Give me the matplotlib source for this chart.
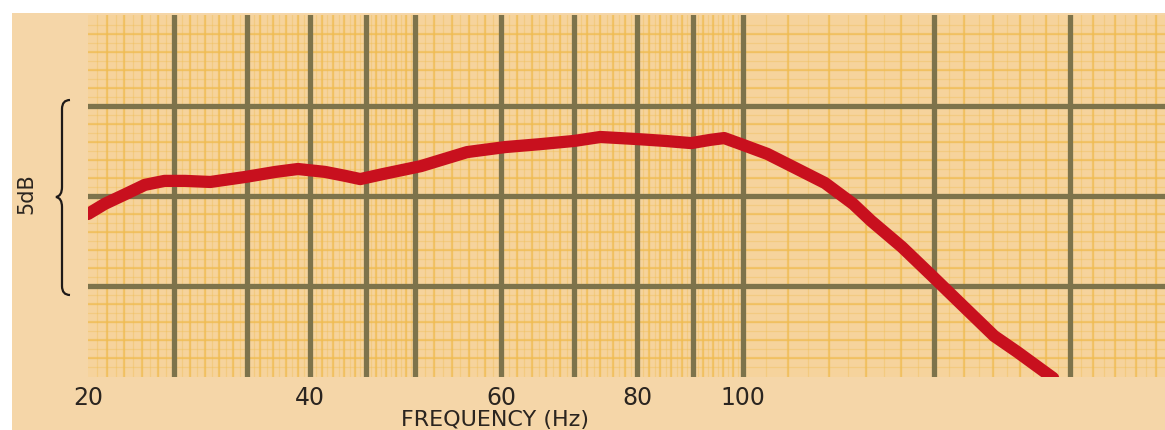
import numpy as np
import matplotlib.pyplot as plt
from matplotlib.patches import Rectangle, PathPatch
from matplotlib.path import Path
from matplotlib.ticker import NullLocator

# response curve (Hz, dB relative to centre line)
freq = [25.0, 25.9, 27.1, 28.2, 29.4, 30.7, 32.4, 34.9, 37.2, 39.0, 41.3, 43.1,
        44.5, 46.7, 50.6, 55.8, 60.5, 65.1, 70.0, 74.0, 80.2, 84.9, 89.7, 93.4,
        96.2, 99.7, 105.4, 111.8, 119.1, 126.4, 131.3, 140.2, 149.4, 159.6,
        170.4, 178.9, 193.1]
level = [-0.50, -0.22, 0.06, 0.31, 0.42, 0.42, 0.39, 0.53, 0.67, 0.75, 0.67, 0.56,
         0.47, 0.61, 0.83, 1.22, 1.36, 1.44, 1.53, 1.64, 1.58, 1.53, 1.47, 1.56,
         1.61, 1.44, 1.17, 0.78, 0.36, -0.22, -0.69, -1.42, -2.22, -3.06,
         -3.89, -4.33, -5.06]

tick_pos = [25, 40, 60, 80, 100]
tick_labels = ['20', '40', '60', '80', '100']

major_f = [30, 35, 40, 45, 50, 60, 70, 80, 90, 100, 150, 200]
major_db = [-2.5, 0, 2.5]

paper = '#F5D6A8'
grid_dark = '#7D734B'
grid_orange = '#F0BC50'
ink = '#2B2520'

W, H = 1165, 431
fig = plt.figure(figsize=(W / 100, H / 100), dpi=100)
fig.patch.set_facecolor('white')
fig.patches.append(Rectangle((12 / W, 0), 1, 1 - 14 / H, transform=fig.transFigure,
                             facecolor=paper, edgecolor='none', zorder=-10))

ax = fig.add_axes([88 / W, 1 - 378 / H, 1077 / W, 362 / H])
ax.set_facecolor('#F6D39C')
ax.set_xscale('log')
ax.set_xlim(25, 244.7)
ax.set_ylim(-5.03, 5.03)

# fine orange grid
fine_f = np.concatenate([np.arange(25.5, 50, 0.5), np.arange(50, 100, 1), np.arange(100, 250, 5)])
mid_f = np.concatenate([np.arange(26, 50, 1), np.arange(52, 100, 2), np.arange(110, 250, 10)])
for f in fine_f:
    ax.axvline(f, color=grid_orange, lw=0.9, alpha=0.35, zorder=1)
for f in mid_f:
    ax.axvline(f, color=grid_orange, lw=1.6, alpha=0.65, zorder=1)
for d in np.arange(-4.75, 4.8, 0.25):
    ax.axhline(d, color=grid_orange, lw=0.9, alpha=0.35, zorder=1)
for d in np.arange(-4.5, 4.6, 0.5):
    ax.axhline(d, color=grid_orange, lw=1.6, alpha=0.65, zorder=1)

for f in major_f:
    ax.axvline(f, color=grid_dark, lw=3.8, zorder=2)
for d in major_db:
    ax.axhline(d, color=grid_dark, lw=3.8, zorder=2)

ax.plot(freq, level, color='#C8101E', lw=8.8, solid_capstyle='round',
        solid_joinstyle='round', zorder=5)

for s in ax.spines.values():
    s.set_visible(False)
ax.set_yticks([])
ax.set_xticks(tick_pos)
ax.set_xticklabels(tick_labels)
ax.xaxis.set_minor_locator(NullLocator())
ax.tick_params(axis='x', length=0, pad=6, labelsize=17, labelcolor=ink)
ax.set_xlabel('FREQUENCY (Hz)', fontsize=16, color=ink)
ax.xaxis.set_label_coords((495 - 88) / 1077, -0.088)
ax.xaxis.label.set_va('top')

# brace and 5dB label on the left
over = fig.add_axes([0, 0, 1, 1], zorder=3)
over.set_xlim(0, W)
over.set_ylim(H, 0)
over.axis('off')
verts = [(70, 101), (62, 101), (62, 110), (62, 188), (62, 197), (56, 198),
         (62, 199), (62, 208), (62, 287), (62, 296), (70, 296)]
codes = [Path.MOVETO, Path.CURVE3, Path.CURVE3, Path.LINETO, Path.CURVE3, Path.CURVE3,
         Path.CURVE3, Path.CURVE3, Path.LINETO, Path.CURVE3, Path.CURVE3]
over.add_patch(PathPatch(Path(verts, codes), facecolor='none', edgecolor='#1E1A18', lw=1.6))
over.text(26, 194, '5dB', rotation=90, ha='center', va='center', fontsize=15, color=ink)

fig.savefig('out.png', dpi=100, facecolor=fig.get_facecolor())
